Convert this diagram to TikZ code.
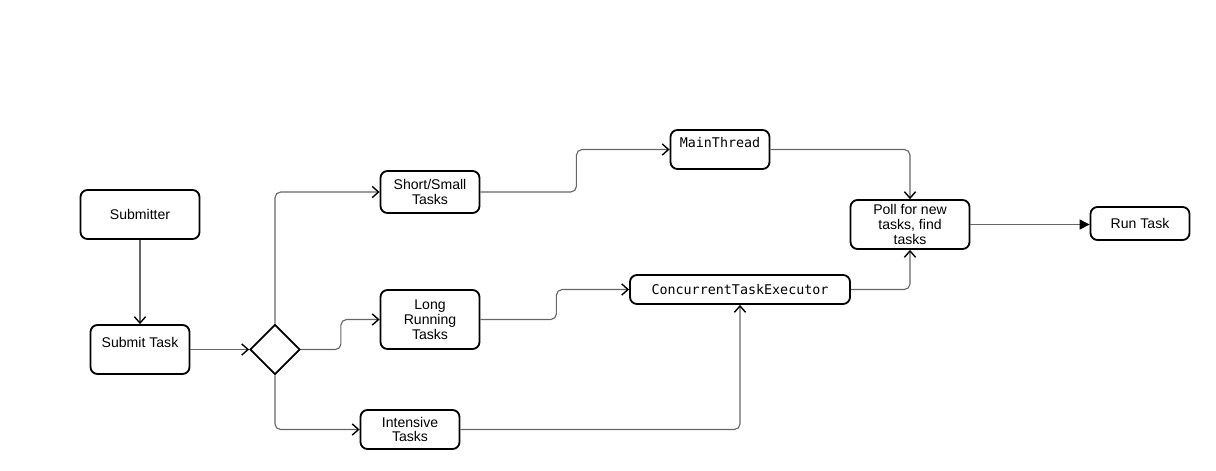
\documentclass[tikz,border=0pt]{standalone}
\usepackage{fontspec}
\setmainfont{Liberation Sans}
\newfontfamily\monofont{DejaVu Sans Mono}
\usetikzlibrary{shapes.geometric,arrows.meta}
\begin{document}
\begin{tikzpicture}[
    x=0.025cm, y=-0.025cm,
    font=\fontsize{10}{10.5}\selectfont,
    >={Straight Barb[length=4.5pt,width=8pt,line width=1pt,color=black]},
    box/.style={draw, black, line width=1.3pt, rounded corners=5pt, align=center, inner sep=1pt},
    decision/.style={draw, black, line width=1.3pt, diamond, minimum width=1.25cm, minimum height=1.25cm, inner sep=0pt},
    line/.style={draw, black!60, line width=0.8pt, rounded corners=4pt, ->},
  ]
  \useasboundingbox (0,0) rectangle (1216,470);

  % ---- submitter ----
  \node[box, minimum width=2.975cm, minimum height=1.225cm] (submitter) at (140,214.5) {Submitter};
  \node[box, minimum width=2.475cm, minimum height=1.225cm] (submit) at (140,349.5) {Submit Task\\\mbox{}};
  \node[decision] (dec) at (275,349.5) {};

  % ---- task kinds ----
  \node[box, minimum width=2.475cm, minimum height=1.05cm] (short) at (430,192) {Short/Small\\Tasks};
  \node[box, minimum width=2.475cm, minimum height=1.475cm] (long) at (430,319.5) {Long\\Running\\Tasks};
  \node[box, minimum width=2.475cm, minimum height=0.975cm] (intens) at (410,429.5) {Intensive\\Tasks};

  % ---- executors ----
  \node[box, minimum width=2.475cm, minimum height=0.975cm, font=\monofont\fontsize{9.5}{10.5}\selectfont] (main) at (720,149.5) {MainThread\\\mbox{}};
  \node[box, minimum width=5.5cm, minimum height=0.725cm, font=\monofont\fontsize{9.5}{10.5}\selectfont] (conc) at (740,289.5) {ConcurrentTaskExecutor};
  \node[box, minimum width=2.975cm, minimum height=1.225cm] (poll) at (910,224.5) {Poll for new\\tasks, find\\tasks};
  \node[box, minimum width=2.475cm, minimum height=0.825cm] (run) at (1140,223.5) {Run Task};

  % ---- connectors ----
  \draw[line] (submitter.south) -- (submit.north);
  \draw[line] (submit.east) -- (dec.west);
  \draw[line] (dec.north) |- (short.west);
  \draw[line] (dec.east) -- ++(40,0) |- (long.west);
  \draw[line] (dec.south) |- (intens.west);
  \draw[line] (short.east) -- ++(96,0) |- (main.west);
  \draw[line] (long.east) -- ++(76,0) |- (conc.west);
  \draw[line] (intens.east) -| (conc.south);
  \draw[line] (main.east) -| (poll.north);
  \draw[line] (conc.east) -| (poll.south);
  \draw[line, -{Triangle[length=7pt,width=7pt,color=black]}] (poll.east) -- (poll.east -| run.west);
\end{tikzpicture}
\end{document}
